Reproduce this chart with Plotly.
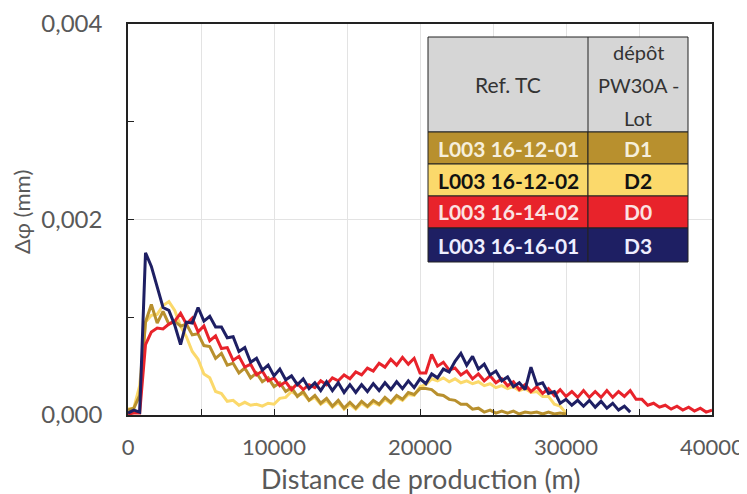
import plotly.graph_objects as go

# ---------------- data (values in 1e-3 mm, sampled every 400 m) ----------------
step_m = 400
d1_l003_16_12_01 = [0.05,0.07,0.20,0.95,1.13,0.94,1.06,0.93,0.96,0.91,
                    0.93,0.82,0.83,0.71,0.70,0.58,0.63,0.51,0.53,0.43,
                    0.48,0.38,0.43,0.34,0.38,0.29,0.33,0.24,0.28,0.19,
                    0.24,0.15,0.20,0.12,0.17,0.09,0.15,0.07,0.13,0.07,
                    0.14,0.09,0.15,0.11,0.18,0.13,0.20,0.16,0.23,0.21,
                    0.27,0.27,0.26,0.21,0.20,0.16,0.15,0.11,0.11,0.06,
                    0.07,0.03,0.05,0.02,0.04,0.02,0.04,0.01,0.03,0.02,
                    0.03,0.01,0.03,0.01,0.02,0.01]
d2_l003_16_12_02 = [0.06,0.07,0.30,0.95,1.02,1.03,1.12,1.16,1.07,0.91,
                    0.80,0.65,0.57,0.42,0.38,0.24,0.22,0.14,0.15,0.10,
                    0.13,0.10,0.11,0.09,0.12,0.11,0.17,0.18,0.24,0.20,
                    0.22,0.15,0.18,0.11,0.15,0.08,0.13,0.06,0.11,0.06,
                    0.12,0.08,0.13,0.10,0.16,0.12,0.18,0.15,0.21,0.20,
                    0.29,0.31,0.37,0.35,0.38,0.34,0.37,0.33,0.35,0.32,
                    0.34,0.30,0.32,0.28,0.30,0.27,0.29,0.25,0.27,0.23,
                    0.24,0.19,0.19,0.11,0.09,0.02]
d0_l003_16_14_02 = [0.01,0.02,0.02,0.72,0.85,0.89,0.88,0.93,0.96,1.04,
                    0.93,0.99,0.85,0.91,0.76,0.81,0.68,0.69,0.56,0.60,
                    0.49,0.52,0.41,0.45,0.35,0.38,0.30,0.34,0.26,0.32,
                    0.26,0.31,0.28,0.35,0.31,0.38,0.35,0.41,0.37,0.44,
                    0.41,0.48,0.45,0.53,0.49,0.57,0.51,0.59,0.52,0.58,
                    0.43,0.43,0.62,0.50,0.54,0.46,0.48,0.41,0.45,0.37,
                    0.42,0.35,0.40,0.33,0.37,0.30,0.34,0.26,0.31,0.24,
                    0.29,0.22,0.27,0.20,0.26,0.19,0.24,0.18,0.25,0.18,
                    0.24,0.18,0.25,0.18,0.24,0.19,0.25,0.16,0.16,0.10,
                    0.12,0.08,0.10,0.06,0.09,0.05,0.08,0.04,0.07,0.03,0.05]
d3_l003_16_16_01 = [0.02,0.05,0.03,1.66,1.52,1.32,1.10,1.07,0.92,0.72,
                    0.95,0.94,1.10,0.96,1.01,0.90,0.90,0.79,0.80,0.65,
                    0.69,0.54,0.58,0.46,0.51,0.40,0.47,0.36,0.40,0.31,
                    0.37,0.27,0.33,0.25,0.34,0.25,0.33,0.23,0.31,0.23,
                    0.31,0.24,0.32,0.25,0.33,0.26,0.34,0.27,0.35,0.28,
                    0.37,0.32,0.42,0.38,0.47,0.44,0.55,0.63,0.51,0.60,
                    0.47,0.52,0.41,0.45,0.35,0.39,0.29,0.33,0.26,0.49,
                    0.31,0.33,0.22,0.24,0.12,0.16,0.10,0.15,0.09,0.15,
                    0.08,0.14,0.07,0.12,0.05,0.09,0.03]

ref_tc = ["L003 16-12-01", "L003 16-12-02", "L003 16-14-02", "L003 16-16-01"]
lots = ["D1", "D2", "D0", "D3"]
series = [d1_l003_16_12_01, d2_l003_16_12_02, d0_l003_16_14_02, d3_l003_16_16_01]
colors = ["#b8902e", "#fbd96b", "#e8232b", "#1e1f63"]
text_colors = ["#f6efdc", "#111111", "#fbe3e3", "#eeeeff"]
header_left = "Ref. TC"
header_right = ["dépôt", "PW30A -", "Lot"]
x_ticks = [0, 10000, 20000, 30000, 40000]
y_ticks = [0.0, 0.002, 0.004]

FONT = "Lato"
GREY = "#595959"

fig = go.Figure()
draw_order = [1, 0, 2, 3]
for i in draw_order:
    vals = series[i]
    fig.add_trace(go.Scatter(
        x=[k * step_m for k in range(len(vals))],
        y=[v / 1000 for v in vals],
        mode="lines", line=dict(color=colors[i], width=3),
        name=lots[i], showlegend=False))

# plot area in (reference) pixels
W, H = 747, 494
OFF = 8  # default page body margin
L, R, T, B = 128, 712, 24, 415
def px(xp):
    return (xp - L) / (R - L)
def py(yp):
    return (B - yp) / (B - T)

# ---- table legend built from shapes/annotations ----
tx0, tx1, tx2 = 428, 588, 688
ty = [37, 132, 164, 196, 228, 262]
shapes = []
annotations = []
shapes.append(dict(type="rect", xref="paper", yref="paper", x0=px(tx0), x1=px(tx2),
                   y0=py(ty[1]), y1=py(ty[0]), fillcolor="#d6d6d6",
                   line=dict(color="#222", width=1), layer="above"))
shapes.append(dict(type="line", xref="paper", yref="paper", x0=px(tx1), x1=px(tx1),
                   y0=py(ty[1]), y1=py(ty[0]), line=dict(color="#222", width=1), layer="above"))
annotations.append(dict(xref="paper", yref="paper", x=px((tx0 + tx1) / 2), y=py((ty[0] + ty[1]) / 2),
                        text=header_left, showarrow=False, xanchor="center", yanchor="middle",
                        font=dict(family=FONT, size=21, color="#333")))
for j, line in enumerate(header_right):
    annotations.append(dict(xref="paper", yref="paper", x=px((tx1 + tx2) / 2), y=py(52 + 33 * j),
                            text=line, showarrow=False, xanchor="center", yanchor="middle",
                            font=dict(family=FONT, size=20, color="#333")))
for r in range(4):
    y0, y1 = ty[r + 1], ty[r + 2]
    for (a, b, txt) in [(tx0, tx1, ref_tc[r]), (tx1, tx2, lots[r])]:
        shapes.append(dict(type="rect", xref="paper", yref="paper", x0=px(a), x1=px(b),
                           y0=py(y1), y1=py(y0), fillcolor=colors[r],
                           line=dict(color="#222", width=1), layer="above"))
        annotations.append(dict(xref="paper", yref="paper", x=px((a + b) / 2), y=py((y0 + y1) / 2),
                                text="<b>" + txt + "</b>", showarrow=False,
                                xanchor="center", yanchor="middle",
                                font=dict(family=FONT, size=21, color=text_colors[r])))

# axis titles
annotations.append(dict(xref="paper", yref="paper", x=0.5, y=py(478), text="Distance de production (m)",
                        showarrow=False, xanchor="center", yanchor="middle",
                        font=dict(family=FONT, size=27, color=GREY)))
annotations.append(dict(xref="paper", yref="paper", x=px(22), y=py(212), text="Δφ (mm)", textangle=-90,
                        showarrow=False, xanchor="center", yanchor="middle",
                        font=dict(family=FONT, size=22, color=GREY)))

fig.update_layout(
    width=W - OFF, height=H - OFF,
    margin=dict(l=L - OFF, r=W - R, t=T - OFF, b=H - B, autoexpand=False),
    paper_bgcolor="white", plot_bgcolor="white",
    separators=", ",
    font=dict(family=FONT, color=GREY),
    shapes=shapes, annotations=annotations,
    xaxis=dict(range=[0, 40000], tickvals=x_ticks, ticktext=[str(v) for v in x_ticks],
               automargin=False,
               ticks="inside", ticklen=6, tickcolor="#222", tickwidth=1.3,
               showline=True, linecolor="#222", linewidth=1.5, mirror=True,
               showgrid=True, gridcolor="#e3e3e3", gridwidth=1, zeroline=False,
               minor=dict(dtick=5000, tick0=0, ticks="inside", ticklen=6, tickcolor="#222",
                          showgrid=True, gridcolor="#e3e3e3"),
               tickfont=dict(family=FONT, size=22, color=GREY), ticklabelstandoff=12),
    yaxis=dict(range=[0, 0.004], tickvals=y_ticks, tickformat=".3f",
               automargin=False,
               ticks="inside", ticklen=6, tickcolor="#222", tickwidth=1.3,
               showline=True, linecolor="#222", linewidth=1.5, mirror=True,
               showgrid=True, gridcolor="#e3e3e3", zeroline=False,
               minor=dict(dtick=0.001, tick0=0, ticks="inside", ticklen=6, tickcolor="#222", showgrid=False),
               tickfont=dict(family=FONT, size=24, color=GREY), ticklabelstandoff=19),
)

fig.write_html("out.html")
